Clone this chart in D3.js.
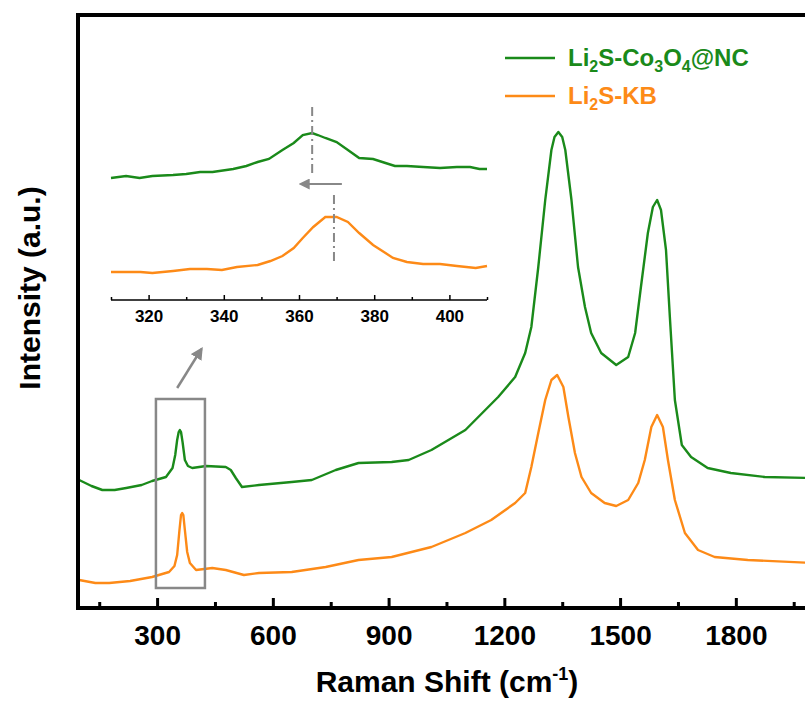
<!DOCTYPE html>
<html>
<head>
<meta charset="utf-8">
<script src="https://d3js.org/d3.v7.min.js"></script>
<style>
  body { margin: 0; background: #fff; }
  text { font-family: "Liberation Sans", Arial, sans-serif; font-weight: bold; }
</style>
</head>
<body>
<div id="vis"></div>
<script>
// Raman shift (cm-1) and intensity (a.u.)
var shift = [98,130,158,190,220,260,287,323,340,347,352,356,359,362,366,372,380,391,427,478,491,504,520,564,649,701,763,822,908,952,1011,1099,1184,1228,1254,1270,1288,1306,1322,1330,1340,1350,1358,1374,1391,1409,1425,1451,1490,1521,1539,1554,1572,1585,1596,1606,1619,1629,1642,1660,1684,1727,1787,1875,2000];
var coNC = [128,122,118,118,120,123,127,131,140,153,168,176,178,176,166,148,142,140,142,141,138,130,121,123,126,128,138,145,146,148,158,178,211,231,255,281,341,408,458,471,476,471,458,408,341,301,275,255,243,251,275,321,375,401,408,398,358,291,208,163,151,140,135,131,130];

var shiftKB = [98,140,176,230,287,331,345,352,358,362,365,368,372,378,385,401,443,478,525,564,649,737,822,908,1011,1099,1166,1228,1254,1270,1288,1306,1322,1337,1353,1366,1383,1400,1425,1460,1490,1521,1547,1564,1581,1596,1611,1624,1642,1668,1702,1745,1831,2000];
var kb = [28,25,25,27,31,36,42,53,78,93,95,93,78,56,45,38,40,38,33,35,36,41,48,51,61,75,88,105,115,141,175,208,228,233,221,191,155,131,115,105,102,108,125,148,181,193,181,148,108,75,58,51,48,45];

// inset, 310-410 cm-1
var insetShiftNC = [310,314,317.6,321,326.5,330,333.7,337,342.5,346,349,352,355.6,358.6,361,363.5,365,367,370,373,376,379.7,383,385.5,388.7,393,397.5,402,405.5,408,410];
var insetNC = [122,124,122,124,125,126,128,128,131,134,138,141,150,157,165,167,165,162,158,150,142,141,137,134,134,133,132,133,133,131,131];
var insetShiftKB = [310,317.8,321,326.5,331,335.5,339.5,343.5,349,352.4,355.6,358.6,361,363.8,367,370,373,376,379.7,383,385,388.7,393,397.5,402,407,410];
var insetKB = [28,28,27,29,31,31,30,33,35,39,44,52,62,73,83,83,78,67,55,47,42,38,36,36,34,32,34];

var majorTicks = [300, 600, 900, 1200, 1500, 1800];
var minorTicks = [150, 450, 750, 1050, 1350, 1650, 1950];
var insetMajor = [320, 340, 360, 380, 400];
var insetMinor = [310, 330, 350, 370, 390, 410];
var peakNC = 363.5, peakKB = 369.3;

var green = "#1a8a1a", orange = "#fd8a17", grey = "#888888";
var w = 805, h = 711;

var svg = d3.select("#vis").append("svg")
    .attr("width", w)
    .attr("height", h);

var x = d3.scaleLinear().domain([95, 2000]).range([78, 813]);
var y = d3.scaleLinear().domain([0, 593]).range([608, 15]);

var line = d3.line()
    .x(function(d) { return x(d[0]); })
    .y(function(d) { return y(d[1]); });

svg.append("path")
    .datum(d3.zip(shift, coNC))
    .attr("d", line)
    .attr("fill", "none")
    .attr("stroke", green)
    .attr("stroke-width", 2.4)
    .attr("stroke-linejoin", "round");

svg.append("path")
    .datum(d3.zip(shiftKB, kb))
    .attr("d", line)
    .attr("fill", "none")
    .attr("stroke", orange)
    .attr("stroke-width", 2.4)
    .attr("stroke-linejoin", "round");

// zoom box + arrow
svg.append("rect")
    .attr("x", x(297))
    .attr("y", y(209))
    .attr("width", x(424) - x(297))
    .attr("height", y(20) - y(209))
    .attr("fill", "none")
    .attr("stroke", grey)
    .attr("stroke-width", 2.5);

svg.append("defs").append("marker")
    .attr("id", "head")
    .attr("viewBox", "0 0 10 10")
    .attr("refX", 8).attr("refY", 5)
    .attr("markerWidth", 5).attr("markerHeight", 5)
    .attr("orient", "auto")
  .append("path")
    .attr("d", "M0,0L10,5L0,10z")
    .attr("fill", grey);

svg.append("line")
    .attr("x1", x(352)).attr("y1", y(220))
    .attr("x2", x(415)).attr("y2", y(259))
    .attr("stroke", grey)
    .attr("stroke-width", 2.5)
    .attr("marker-end", "url(#head)");

// frame
svg.append("path")
    .attr("d", "M" + (w + 10) + "," + y(593) + "H" + x(95) + "V" + y(0) + "H" + (w + 10))
    .attr("fill", "none")
    .attr("stroke", "#000")
    .attr("stroke-width", 4);

var xAxis = d3.axisBottom(x).tickValues(majorTicks).tickSize(-10).tickPadding(17).tickFormat(d3.format("d"));
var gx = svg.append("g")
    .attr("transform", "translate(0," + y(0) + ")")
    .call(xAxis);
gx.select(".domain").remove();
gx.selectAll(".tick line").attr("stroke-width", 3);
gx.selectAll(".tick text")
    .attr("font-size", 28)
    .attr("fill", "#000");

svg.append("g")
    .attr("transform", "translate(0," + y(0) + ")")
    .call(d3.axisBottom(x).tickValues(minorTicks).tickSize(-6).tickFormat(""))
    .call(function(g) { g.select(".domain").remove(); })
    .selectAll(".tick line").attr("stroke-width", 3);

var xt = svg.append("text")
    .attr("x", 447).attr("y", 692)
    .attr("text-anchor", "middle")
    .attr("font-size", 30)
    .text("Raman Shift (cm");
xt.append("tspan").attr("dy", -12).attr("font-size", 18).text("-1");
xt.append("tspan").attr("dy", 12).text(")");

svg.append("text")
    .attr("transform", "translate(40,288) rotate(-90)")
    .attr("text-anchor", "middle")
    .attr("font-size", 30)
    .text("Intensity (a.u.)");

// legend
var legend = [
  { color: green, parts: [["Li", 0], ["2", 1], ["S-Co", 0], ["3", 1], ["O", 0], ["4", 1], ["@NC", 0]] },
  { color: orange, parts: [["Li", 0], ["2", 1], ["S-KB", 0]] }
];
legend.forEach(function(d, i) {
  var ly = 58 + i * 38;
  svg.append("line")
    .attr("x1", 505).attr("x2", 555)
    .attr("y1", ly).attr("y2", ly)
    .attr("stroke", d.color)
    .attr("stroke-width", 2.5);
  var t = svg.append("text")
    .attr("x", 568).attr("y", ly + 8)
    .attr("font-size", 24)
    .attr("fill", d.color);
  var prev = 0;
  d.parts.forEach(function(p) {
    t.append("tspan")
      .attr("dy", (p[1] - prev) * 6)
      .attr("font-size", p[1] ? 16 : 24)
      .text(p[0]);
    prev = p[1];
  });
});

// inset
var ix = d3.scaleLinear().domain([310, 410]).range([111, 487]);
var iy = d3.scaleLinear().domain([0, 190]).range([300, 110]);
var iline = d3.line()
    .x(function(d) { return ix(d[0]); })
    .y(function(d) { return iy(d[1]); });

svg.append("path")
    .datum(d3.zip(insetShiftNC, insetNC))
    .attr("d", iline)
    .attr("fill", "none")
    .attr("stroke", green)
    .attr("stroke-width", 2.4);

svg.append("path")
    .datum(d3.zip(insetShiftKB, insetKB))
    .attr("d", iline)
    .attr("fill", "none")
    .attr("stroke", orange)
    .attr("stroke-width", 2.4);

svg.append("line")
    .attr("x1", ix(peakNC)).attr("x2", ix(peakNC))
    .attr("y1", iy(193)).attr("y2", iy(127))
    .attr("stroke", grey).attr("stroke-width", 2)
    .attr("stroke-dasharray", "9,4,2,4");

svg.append("line")
    .attr("x1", ix(peakKB)).attr("x2", ix(peakKB))
    .attr("y1", iy(105)).attr("y2", iy(38))
    .attr("stroke", grey).attr("stroke-width", 2)
    .attr("stroke-dasharray", "9,4,2,4");

svg.append("line")
    .attr("x1", ix(371.4)).attr("x2", ix(360.5))
    .attr("y1", iy(116)).attr("y2", iy(116))
    .attr("stroke", grey).attr("stroke-width", 2.2)
    .attr("marker-end", "url(#head)");

var gi = svg.append("g")
    .attr("transform", "translate(0," + iy(0) + ")")
    .call(d3.axisBottom(ix).tickValues(insetMajor).tickSize(-5).tickPadding(10));
gi.select(".domain").attr("stroke-width", 1.5).attr("d", "M" + ix(310) + ",0H" + ix(410));
gi.selectAll(".tick line").attr("stroke-width", 1.5);
gi.selectAll(".tick text").attr("font-size", 17).attr("fill", "#000");

svg.append("g")
    .attr("transform", "translate(0," + iy(0) + ")")
    .call(d3.axisBottom(ix).tickValues(insetMinor).tickSize(-3).tickFormat(""))
    .call(function(g) { g.select(".domain").remove(); })
    .selectAll(".tick line").attr("stroke-width", 1.5);
</script>
</body>
</html>
